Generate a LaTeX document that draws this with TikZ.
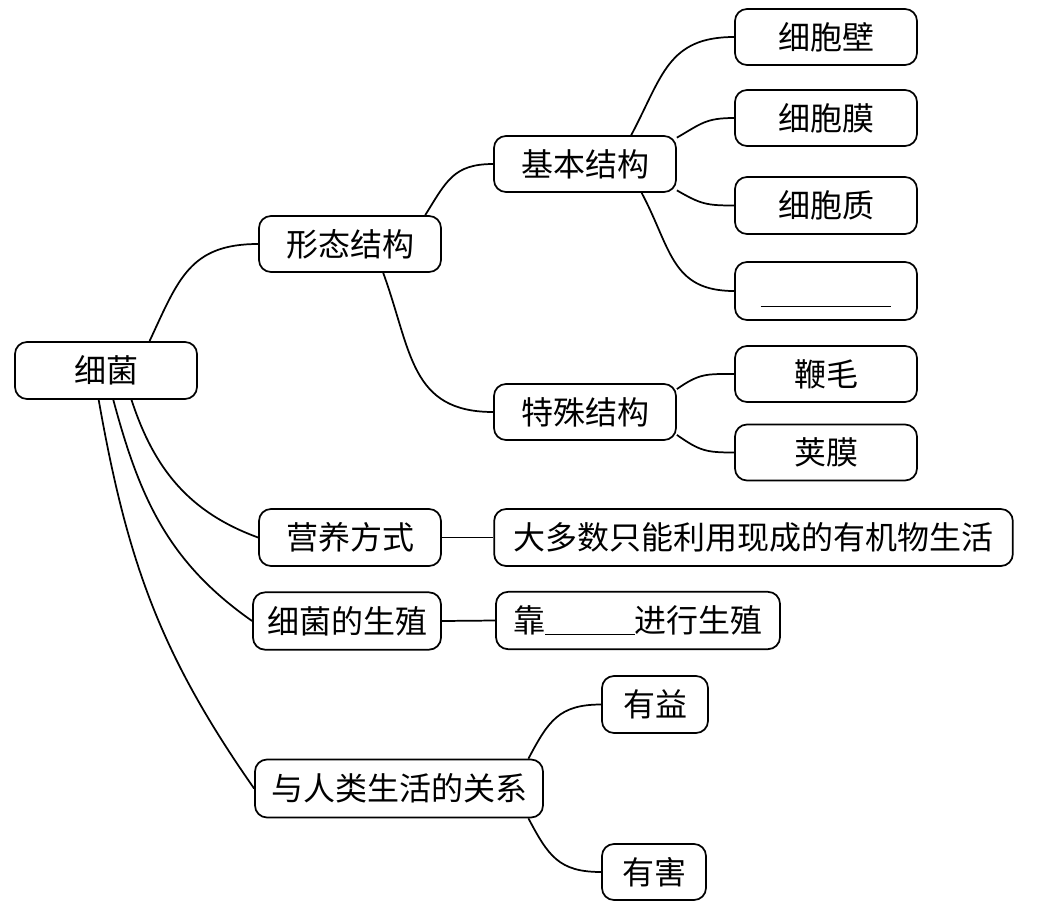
\documentclass[tikz,border=0pt]{standalone}
\usepackage{fontspec}
\newfontfamily\cjk{Noto Sans CJK SC}
\tikzset{every picture/.style={line width=1.3pt}}
\tikzset{mapbox/.style={draw, rounded corners=9pt, inner sep=0pt, minimum width=136.5pt, minimum height=42pt, font=\cjk\fontsize{24}{28}\selectfont}}
\tikzset{link/.style={looseness=1.2}}

\begin{document}
\begin{tikzpicture}[x=0.75pt,y=0.75pt,yscale=-1,xscale=1]
\useasboundingbox (0,0) rectangle (1039,921);

% Text Node
\node[mapbox, minimum height=42.75pt] (xj) at (106,370.5) {细菌};
% Text Node
\node[mapbox] (xtjg) at (350,244) {形态结构};
% Text Node
\node[mapbox] (jbjg) at (585,164) {基本结构};
% Text Node
\node[mapbox] (tsjg) at (585,412) {特殊结构};
% Text Node
\node[mapbox] (xbb) at (826,37) {细胞壁};
% Text Node
\node[mapbox] (xbm) at (826,118) {细胞膜};
% Text Node
\node[mapbox, minimum height=42.75pt] (xbz) at (826,205.5) {细胞质};
% Text Node
\node[mapbox, minimum height=43.5pt] (kong) at (826,291) {\rule[-4pt]{98pt}{0.8pt}\vphantom{细}};
% Text Node
\node[mapbox] (bm) at (826,374) {鞭毛};
% Text Node
\node[mapbox] (jm) at (826,452.5) {荚膜};
% Text Node
\node[mapbox, minimum height=42.75pt] (yyfs) at (350,537.5) {营养方式};
% Text Node
\node[mapbox, minimum height=42.75pt, minimum width=389pt] (yyd) at (753.5,537.5) {大多数只能利用现成的有机物生活};
% Text Node
\node[mapbox, minimum height=43pt, minimum width=141pt] (xjsz) at (347,621) {细菌的生殖};
% Text Node
\node[mapbox, minimum height=43pt, minimum width=213pt] (kao) at (638,620.5) {靠\underline{\hspace{67pt}}进行生殖};
% Text Node
\node[mapbox, minimum height=43.5pt, minimum width=216pt] (gx) at (399,788.5) {与人类生活的关系};
% Text Node
\node[mapbox, minimum height=42.75pt, minimum width=79.5pt] (yy) at (655,704.5) {有益};
% Text Node
\node[mapbox, minimum width=78pt] (yh) at (654,872) {有害};

%Curve Lines
\draw[link] (xj.34) to[out=-65,in=180] (xtjg.west);
%Curve Lines
\draw[link] (xtjg.21) to[out=-58,in=180] (jbjg.west);
%Curve Lines
\draw[link] (xtjg.-41) to[out=70,in=180] (tsjg.west);
%Curve Lines
\draw[link] (jbjg.32) to[out=-62,in=180] (xbb.west);
%Curve Lines
\draw[link] (jbjg.16) to[out=-30,in=180] (xbm.west);
%Curve Lines
\draw[link] (jbjg.-16) to[out=30,in=180] (xbz.west);
%Curve Lines
\draw[link] (jbjg.-27) to[out=62,in=180] (kong.west);
%Curve Lines
\draw[link] (tsjg.14) to[out=-35,in=180] (bm.west);
%Curve Lines
\draw[link] (tsjg.-14) to[out=35,in=180] (jm.west);
%Curve Lines
\draw (xj.-49) to[out=72,in=200] (yyfs.west);
%Curve Lines
\draw (xj.-76) to[out=75,in=215] (xjsz.west);
%Curve Lines
\draw (xj.-104) to[out=80,in=235] (gx.west);
%Curve Lines
\draw[link] (gx.13) to[out=-62,in=180] (yy.west);
%Curve Lines
\draw[link] (gx.-13) to[out=62,in=180] (yh.west);

%Straight Lines
\draw (yyfs.east) -- (yyd.west);
%Straight Lines
\draw (xjsz.east) -- (kao.west);

\end{tikzpicture}
\end{document}
